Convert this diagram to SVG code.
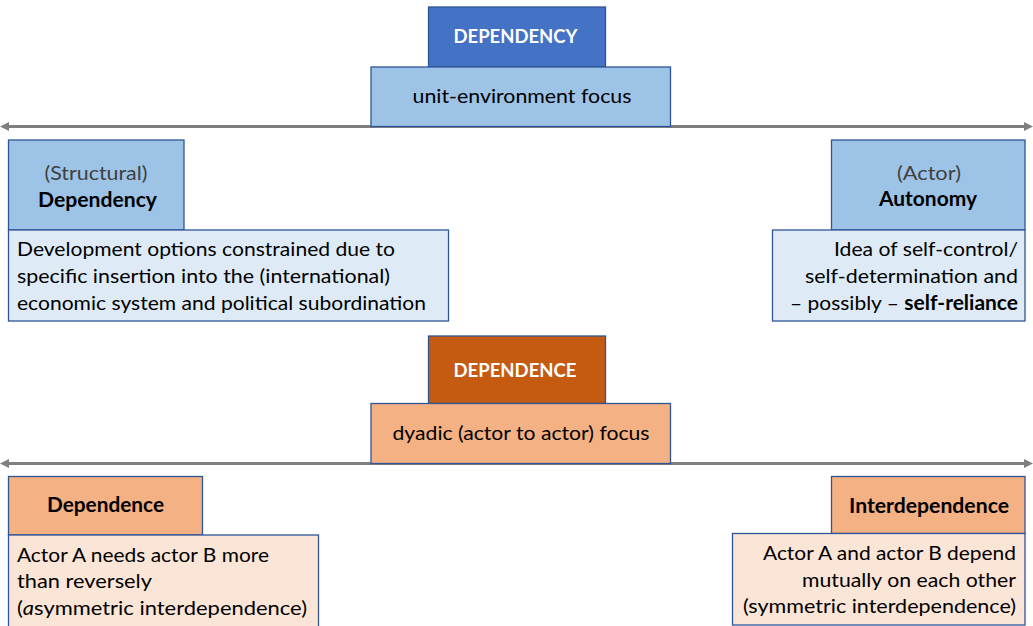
<svg xmlns="http://www.w3.org/2000/svg" width="1033" height="626" viewBox="0 0 1033 626">
<style>
text{font-family:Lato,"Liberation Sans",sans-serif;font-size:20px;fill:#000}
.b{font-weight:bold}
.g{fill:#404040}
.w{fill:#fff;font-weight:bold;font-size:18px}
.box{stroke:#2F5597;stroke-width:1.3}
.blueD{fill:#4472C4}.blueM{fill:#9DC3E6}.blueL{fill:#DEEBF7}
.orD{fill:#C55A11}.orM{fill:#F4B183}.orL{fill:#FBE5D6}
.axis{stroke:#7F7F7F;stroke-width:3;fill:none}
</style>
<defs>
<marker id="ah" markerWidth="10" markerHeight="10" refX="0" refY="5" orient="auto-start-reverse" markerUnits="userSpaceOnUse"><path d="M0,0.5 L9,5 L0,9.5 Z" fill="#7F7F7F"/></marker>
</defs>
<g id="connectors">
<line class="axis" x1="9" y1="126.5" x2="1024" y2="126.5" marker-start="url(#ah)" marker-end="url(#ah)"/>
<line class="axis" x1="9" y1="463.5" x2="1024" y2="463.5" marker-start="url(#ah)" marker-end="url(#ah)"/>
</g>
<g id="dependency-title">
<rect class="box blueD" x="428.5" y="7" width="177" height="60"/>
<text class="w" x="515.5" y="43" text-anchor="middle" textLength="124" lengthAdjust="spacingAndGlyphs">DEPENDENCY</text>
</g>
<g id="unit-environment">
<rect class="box blueM" x="371" y="67" width="299.5" height="59.5"/>
<text x="522" y="103" text-anchor="middle" textLength="219" lengthAdjust="spacingAndGlyphs">unit-environment focus</text>
</g>
<g id="structural-dependency">
<rect class="box blueM" x="8.5" y="140" width="175.5" height="90"/>
<text class="g" x="96" y="180" text-anchor="middle" textLength="103" lengthAdjust="spacingAndGlyphs">(Structural)</text>
<text class="b" x="97.5" y="206.5" text-anchor="middle" textLength="119" lengthAdjust="spacingAndGlyphs">Dependency</text>
</g>
<g id="structural-dependency-desc">
<rect class="box blueL" x="8.5" y="230" width="440" height="91"/>
<text x="17" y="256" textLength="378" lengthAdjust="spacingAndGlyphs">Development options constrained due to</text>
<text x="17" y="283" textLength="373" lengthAdjust="spacingAndGlyphs">specific insertion into the (international)</text>
<text x="17" y="310" textLength="409" lengthAdjust="spacingAndGlyphs">economic system and political subordination</text>
</g>
<g id="actor-autonomy">
<rect class="box blueM" x="831.5" y="140" width="193.5" height="90"/>
<text class="g" x="929" y="180" text-anchor="middle" textLength="64" lengthAdjust="spacingAndGlyphs">(Actor)</text>
<text class="b" x="928" y="205.5" text-anchor="middle" textLength="98" lengthAdjust="spacingAndGlyphs">Autonomy</text>
</g>
<g id="actor-autonomy-desc">
<rect class="box blueL" x="772.5" y="230" width="252.5" height="91"/>
<text x="1018" y="256" text-anchor="end" textLength="184" lengthAdjust="spacingAndGlyphs">Idea of self-control/</text>
<text x="1018" y="283" text-anchor="end" textLength="213" lengthAdjust="spacingAndGlyphs">self-determination and</text>
<text x="1018" y="309.5" text-anchor="end" textLength="228" lengthAdjust="spacingAndGlyphs">– possibly – <tspan class="b">self-reliance</tspan></text>
</g>
<g id="dependence-title">
<rect class="box orD" x="428.5" y="336" width="177" height="67.5"/>
<text class="w" x="515" y="376.5" text-anchor="middle" textLength="123" lengthAdjust="spacingAndGlyphs">DEPENDENCE</text>
</g>
<g id="dyadic">
<rect class="box orM" x="371" y="403.5" width="299.5" height="60"/>
<text x="521" y="440" text-anchor="middle" textLength="257" lengthAdjust="spacingAndGlyphs">dyadic (actor to actor) focus</text>
</g>
<g id="dependence">
<rect class="box orM" x="8.5" y="476.5" width="194" height="58.5"/>
<text class="b" x="105.5" y="512" text-anchor="middle" textLength="117" lengthAdjust="spacingAndGlyphs">Dependence</text>
</g>
<g id="dependence-desc">
<rect class="box orL" x="8.5" y="535" width="310" height="95"/>
<text x="17" y="561.5" textLength="252" lengthAdjust="spacingAndGlyphs">Actor A needs actor B more</text>
<text x="17" y="588" textLength="135" lengthAdjust="spacingAndGlyphs">than reversely</text>
<text x="17" y="615" textLength="290" lengthAdjust="spacingAndGlyphs">(<tspan font-style="italic">a</tspan>symmetric interdependence)</text>
</g>
<g id="interdependence">
<rect class="box orM" x="831.5" y="476.5" width="193.5" height="57"/>
<text class="b" x="929" y="512.5" text-anchor="middle" textLength="160" lengthAdjust="spacingAndGlyphs">Interdependence</text>
</g>
<g id="interdependence-desc">
<rect class="box orL" x="732.5" y="533.5" width="292.5" height="91.5"/>
<text x="1016" y="560" text-anchor="end" textLength="253" lengthAdjust="spacingAndGlyphs">Actor A and actor B depend</text>
<text x="1016" y="586.5" text-anchor="end" textLength="214" lengthAdjust="spacingAndGlyphs">mutually on each other</text>
<text x="1016" y="613" text-anchor="end" textLength="273" lengthAdjust="spacingAndGlyphs">(symmetric interdependence)</text>
</g>
</svg>
